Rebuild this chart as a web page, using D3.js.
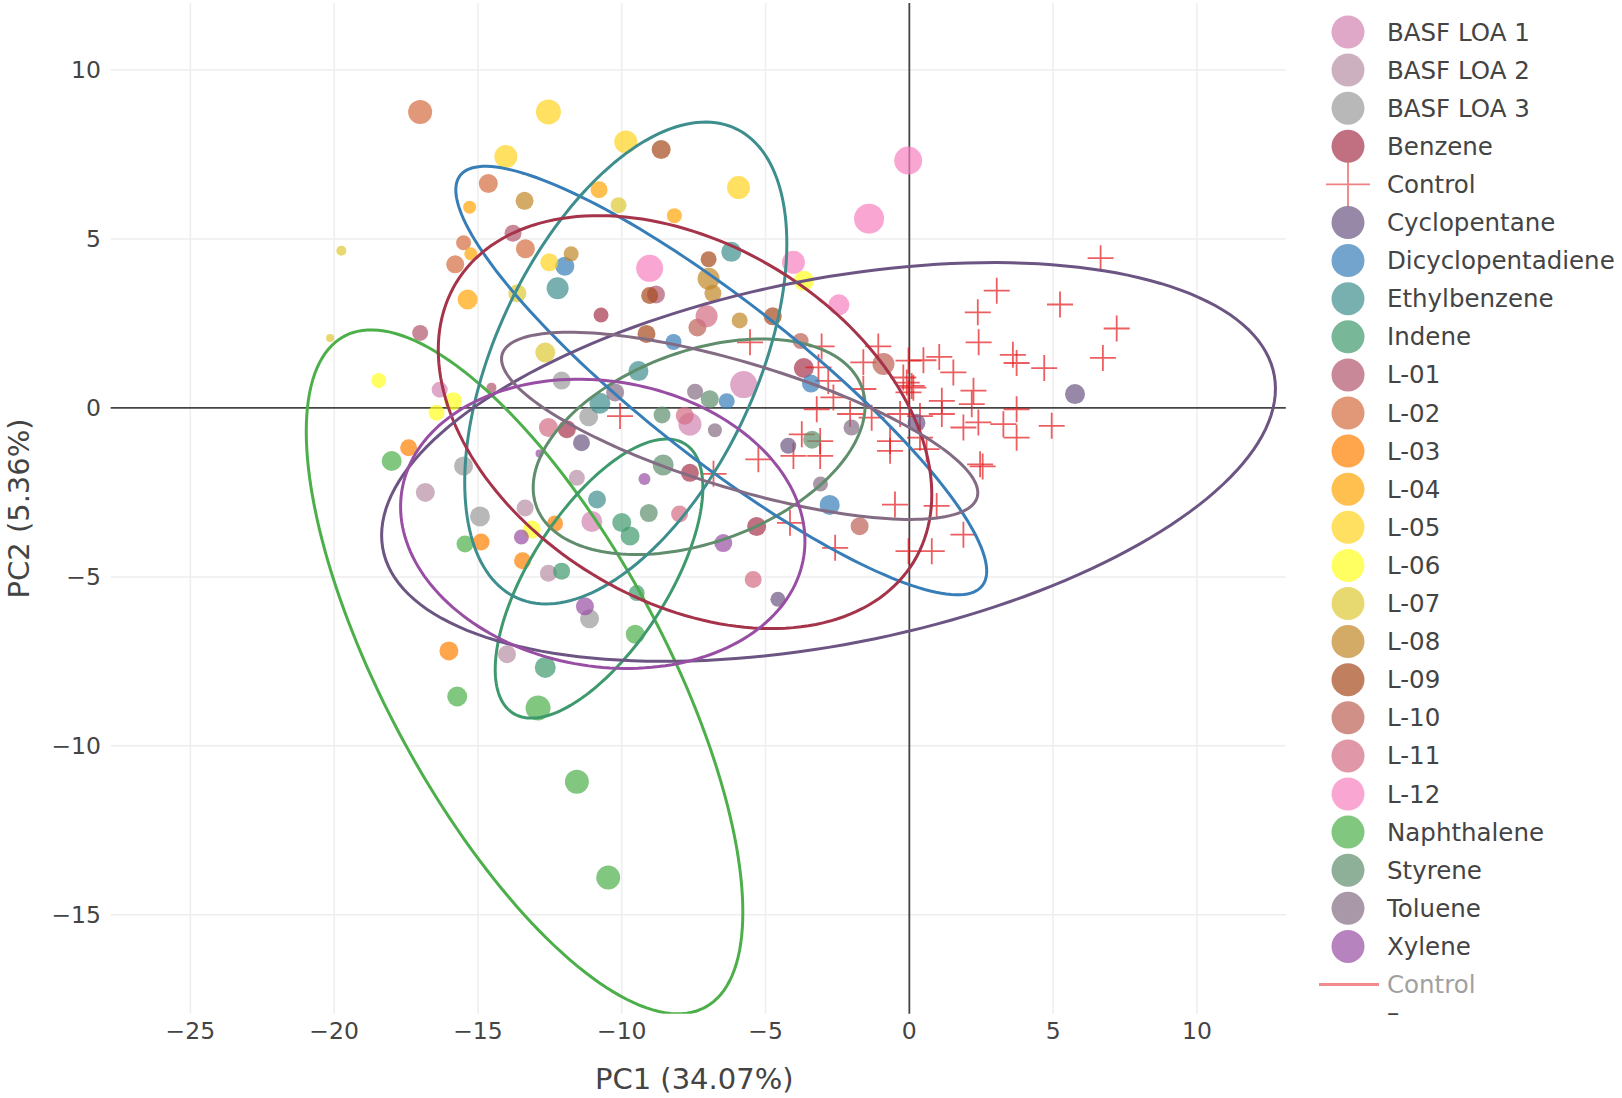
<!DOCTYPE html>
<html>
<head>
<meta charset="utf-8">
<script src="https://cdn.jsdelivr.net/npm/d3@7"></script>
<style>
  body { margin: 0; background: #fff; }
  text { font-family: "DejaVu Sans", Verdana, sans-serif; fill: #444; }
</style>
</head>
<body>
<svg id="chart" width="1622" height="1098"></svg>
<script>
// ---- data: [PC1, PC2, marker size] ----
const basfLoa1 = [[-5.76, 0.69, 27], [-7.63, -0.48, 23], [-16.33, 0.54, 16], [-11.04, -3.36, 21]];
const basfLoa2 = [[-16.83, -2.50, 19], [-11.56, -2.07, 16], [-13.36, -2.96, 17], [-12.55, -4.89, 17], [-13.99, -7.29, 18]];
const basfLoa3 = [[-12.09, 0.81, 18], [-11.15, -0.26, 19], [-15.50, -1.72, 19], [-14.93, -3.21, 20], [-11.12, -6.24, 19]];
const benzene = [[-10.72, 2.75, 15], [-3.67, 1.18, 20], [-11.91, -0.63, 18], [-7.63, -1.92, 18], [-5.31, -3.51, 19]];
const cyclopentane = [[5.76, 0.41, 20], [0.25, -0.44, 18], [-11.40, -1.03, 17], [-4.21, -1.12, 16], [-4.57, -5.66, 15]];
const dicyclopentadiene = [[-11.98, 4.19, 19], [-8.20, 1.95, 16], [-3.42, 0.72, 18], [-6.35, 0.20, 16], [-2.77, -2.87, 20]];
const ethylbenzene = [[-6.19, 4.62, 20], [-12.23, 3.54, 22], [-9.42, 1.09, 20], [-10.76, 0.14, 21], [-10.86, -2.71, 18]];
const indene = [[-10.00, -3.39, 19], [-9.71, -3.79, 19], [-12.09, -4.83, 17], [-12.66, -7.68, 21], [-9.48, -5.48, 16]];
const l01 = [[-13.78, 5.17, 17], [-8.81, 3.36, 18], [-17.01, 2.22, 16], [-14.53, 0.60, 10]];
const l02 = [[-17.01, 8.76, 24], [-14.64, 6.64, 19], [-15.50, 4.89, 15], [-13.35, 4.71, 19], [-15.79, 4.25, 18]];
const l03 = [[-17.41, -1.18, 17], [-12.32, -3.42, 16], [-14.89, -3.97, 17], [-13.45, -4.52, 17], [-16.01, -7.19, 19]];
const l04 = [[-10.79, 6.46, 17], [-15.29, 5.94, 13], [-8.17, 5.69, 15], [-15.25, 4.56, 13], [-15.36, 3.21, 20]];
const l05 = [[-12.55, 8.76, 25], [-9.86, 7.87, 23], [-14.03, 7.44, 23], [-5.94, 6.52, 23], [-12.52, 4.31, 18]];
const l06 = [[-3.67, 3.76, 20], [-18.45, 0.81, 15], [-15.86, 0.20, 18], [-16.44, -0.14, 16], [-13.13, -3.60, 18]];
const l07 = [[-10.11, 6.00, 16], [-13.63, 3.39, 18], [-12.66, 1.64, 20], [-19.75, 4.65, 10], [-20.14, 2.07, 8]];
const l08 = [[-13.38, 6.13, 18], [-11.76, 4.56, 15], [-6.98, 3.82, 22], [-6.83, 3.39, 17], [-5.90, 2.59, 16]];
const l09 = [[-8.63, 7.65, 19], [-6.98, 4.40, 16], [-9.03, 3.33, 17], [-4.75, 2.71, 18], [-9.14, 2.19, 18]];
const l10 = [[-7.37, 2.38, 18], [-3.78, 1.98, 16], [-0.90, 1.30, 22], [-1.73, -3.50, 18]];
const l11 = [[-7.05, 2.71, 22], [-7.81, -0.23, 18], [-12.55, -0.58, 19], [-7.99, -3.14, 17], [-5.43, -5.08, 17]];
const l12 = [[-0.04, 7.32, 28], [-1.40, 5.60, 30], [-9.03, 4.13, 27], [-4.03, 4.31, 23], [-2.45, 3.05, 21]];
const naphthalene = [[-18.00, -1.57, 20], [-15.45, -4.03, 17], [-9.53, -6.70, 19], [-15.72, -8.54, 20], [-12.91, -8.88, 25], [-11.56, -11.06, 24], [-10.47, -13.90, 24]];
const styrene = [[-6.94, 0.26, 18], [-8.60, -0.21, 17], [-3.38, -0.94, 18], [-8.56, -1.69, 21], [-9.06, -3.11, 18]];
const toluene = [[-10.23, 0.46, 18], [-7.45, 0.48, 16], [-6.76, -0.66, 14], [-2.01, -0.58, 16], [-3.09, -2.25, 15]];
const xylene = [[-12.86, -1.35, 8], [-9.21, -2.10, 12], [-13.49, -3.82, 15], [-6.47, -4.00, 18], [-11.28, -5.87, 18]];

// control samples (cross markers)
const control = [
  [6.65, 4.43], [3.04, 3.47], [5.24, 3.06], [2.38, 2.83], [7.21, 2.35], [2.41, 1.94], [6.73, 1.48],
  [3.60, 1.57], [3.73, 1.33], [4.69, 1.18], [-3.05, 1.82], [-1.08, 1.82], [-1.60, 1.35], [-0.03, 1.40],
  [0.49, 1.41], [1.04, 1.51], [1.53, 1.05], [-0.09, 0.75], [0.08, 0.65], [-0.21, 0.90], [0.14, 0.60],
  [-0.03, 0.46], [-3.16, 1.20], [-2.82, 0.80], [-2.64, 0.31], [-3.22, -0.04], [-2.06, -0.18], [-1.60, 0.56],
  [-0.32, -0.18], [0.37, -0.24], [1.13, -0.18], [1.13, 0.21], [2.23, 0.51], [2.17, 0.11], [1.88, -0.58],
  [2.40, -0.43], [3.27, -0.48], [3.73, -0.04], [3.73, -0.88], [4.95, -0.53], [2.46, -1.67], [2.55, -1.73],
  [-0.67, -0.98], [-0.67, -1.27], [0.37, -0.88], [0.60, -1.22], [-1.31, -0.29], [-0.50, -2.86], [0.95, -2.90],
  [1.88, -3.75], [-0.03, -4.24], [0.78, -4.24], [-2.58, -4.14], [-4.15, -3.40], [-5.25, -1.52], [-4.03, -1.42],
  [-3.10, -1.42], [-3.74, -0.78], [-3.10, -0.98], [-5.54, 1.94], [-10.06, -0.24], [-6.81, -1.95]
];

const groupNames = ["BASF LOA 1", "BASF LOA 2", "BASF LOA 3", "Benzene", "Control", "Cyclopentane",
  "Dicyclopentadiene", "Ethylbenzene", "Indene", "L-01", "L-02", "L-03", "L-04", "L-05", "L-06", "L-07",
  "L-08", "L-09", "L-10", "L-11", "L-12", "Naphthalene", "Styrene", "Toluene", "Xylene"];
const groupValues = [basfLoa1, basfLoa2, basfLoa3, benzene, control, cyclopentane,
  dicyclopentadiene, ethylbenzene, indene, l01, l02, l03, l04, l05, l06, l07,
  l08, l09, l10, l11, l12, naphthalene, styrene, toluene, xylene];
const groupColors = ["#d383b0", "#b68ea5", "#9a9a9a", "#a5334a", "#e41a1c", "#6c5583",
  "#377eb8", "#3e8e8e", "#3e996c", "#b0556c", "#d36c3e", "#ff7f00", "#ffa505", "#ffd31c", "#ffff20", "#dec733",
  "#c28627", "#a54a1c", "#bc6155", "#d36c83", "#f781bf", "#4daf4a", "#608e6c", "#836c83", "#984ea3"];

// confidence ellipses: centre, half width, half height, PC2 value at the right-most point
const ellipseGroups = ["Naphthalene", "Indene", "Styrene", "Dicyclopentadiene", "Ethylbenzene", "Benzene", "Cyclopentane", "Toluene", "Xylene"];
const ellipseCx = [-13.38, -10.79, -7.31, -6.54, -9.86, -7.80, -2.81, -5.90, -10.66];
const ellipseCy = [-7.81, -5.05, -1.15, 0.81, 1.33, -0.42, -1.60, -0.53, -3.43];
const ellipseHalfW = [7.59, 3.61, 5.77, 9.23, 5.60, 8.58, 15.54, 8.28, 7.03];
const ellipseHalfH = [10.12, 4.13, 3.19, 6.34, 7.13, 6.11, 5.90, 2.77, 4.28];
const ellipseYAtRight = [-14.92, -2.36, 0.06, -4.83, 4.86, -2.56, 0.57, -2.51, -3.94];

const xTicks = [-25, -20, -15, -10, -5, 0, 5, 10];
const yTicks = [-15, -10, -5, 0, 5, 10];

// ---- layout ----
const plot = {left: 110.7, right: 1285.8, top: 3.1, bottom: 1013.8};
const svg = d3.select("#chart");

const x = d3.scaleLinear().domain([-27.77, 13.09]).range([plot.left, plot.right]);
const y = d3.scaleLinear().domain([11.98, -17.93]).range([plot.top, plot.bottom]);
const size = d3.scaleLinear().domain([0, 30]).range([0, 30]);
const color = d3.scaleOrdinal().domain(groupNames).range(groupColors);

svg.append("defs").append("clipPath").attr("id", "plot-clip")
  .append("rect")
  .attr("x", plot.left).attr("y", plot.top)
  .attr("width", plot.right - plot.left).attr("height", plot.bottom - plot.top);

// grid
const grid = svg.append("g");
grid.selectAll("line.gx").data(xTicks.filter(d => d !== 0)).enter().append("line")
  .attr("x1", d => x(d)).attr("x2", d => x(d))
  .attr("y1", plot.top).attr("y2", plot.bottom)
  .attr("stroke", "#eee").attr("stroke-width", 1.5);
grid.selectAll("line.gy").data(yTicks.filter(d => d !== 0)).enter().append("line")
  .attr("y1", d => y(d)).attr("y2", d => y(d))
  .attr("x1", plot.left).attr("x2", plot.right)
  .attr("stroke", "#eee").attr("stroke-width", 1.5);

// zero lines
grid.append("line")
  .attr("x1", x(0)).attr("x2", x(0)).attr("y1", plot.top).attr("y2", plot.bottom)
  .attr("stroke", "#444").attr("stroke-width", 1.8);
grid.append("line")
  .attr("y1", y(0)).attr("y2", y(0)).attr("x1", plot.left).attr("x2", plot.right)
  .attr("stroke", "#444").attr("stroke-width", 1.8);

// tick labels
const fmt = d3.format("d");
svg.append("g").selectAll("text").data(xTicks).enter().append("text")
  .attr("x", d => x(d)).attr("y", 1031)
  .attr("text-anchor", "middle").attr("dominant-baseline", "central")
  .style("font-size", "23.5px")
  .text(d => fmt(d));
svg.append("g").selectAll("text").data(yTicks).enter().append("text")
  .attr("x", 101).attr("y", d => y(d))
  .attr("text-anchor", "end").attr("dominant-baseline", "central")
  .style("font-size", "23.5px")
  .text(d => fmt(d));

// axis titles
svg.append("text")
  .attr("x", (plot.left + plot.right) / 2 - 4).attr("y", 1079)
  .attr("text-anchor", "middle").attr("dominant-baseline", "central")
  .style("font-size", "29px")
  .text("PC1 (34.07%)");
svg.append("text")
  .attr("transform", `translate(19, ${(plot.top + plot.bottom) / 2}) rotate(-90)`)
  .attr("text-anchor", "middle").attr("dominant-baseline", "central")
  .style("font-size", "29px")
  .text("PC2 (5.36%)");

// markers
const marks = svg.append("g").attr("clip-path", "url(#plot-clip)");
groupNames.forEach((name, i) => {
  const pts = groupValues[i];
  if (name === "Control") {
    marks.append("g").selectAll("path").data(pts).enter().append("path")
      .attr("d", d => `M${x(d[0]) - 13},${y(d[1])}H${x(d[0]) + 13}M${x(d[0])},${y(d[1]) - 13}V${y(d[1]) + 13}`)
      .attr("stroke", color(name)).attr("stroke-width", 1.8)
      .attr("stroke-opacity", 0.7).attr("fill", "none");
  } else {
    marks.append("g").selectAll("circle").data(pts).enter().append("circle")
      .attr("cx", d => x(d[0])).attr("cy", d => y(d[1]))
      .attr("r", d => size(d[2]) / 2)
      .attr("fill", color(name)).attr("fill-opacity", 0.7);
  }
});

// ellipses
const line = d3.line().x(d => x(d[0])).y(d => y(d[1])).curve(d3.curveLinearClosed);
ellipseGroups.forEach((name, i) => {
  const cx = ellipseCx[i], cy = ellipseCy[i], w = ellipseHalfW[i], h = ellipseHalfH[i];
  const dy = ellipseYAtRight[i] - cy;
  const k = Math.sqrt(Math.max(h * h - dy * dy, 0));
  const ring = d3.range(0, 2 * Math.PI, Math.PI / 90)
    .map(t => [cx + w * Math.cos(t), cy + dy * Math.cos(t) + k * Math.sin(t)]);
  marks.append("path")
    .attr("d", line(ring))
    .attr("fill", "none")
    .attr("stroke", color(name))
    .attr("stroke-width", 3);
});

// legend
const legend = svg.append("g").attr("transform", "translate(1348, 32)");
const step = 38.1;
const item = legend.selectAll("g").data(groupNames).enter().append("g")
  .attr("transform", (d, i) => `translate(0, ${i * step})`);
item.each(function (d) {
  const g = d3.select(this);
  if (d === "Control") {
    g.append("path").attr("d", "M-22,0H22M0,-22V22")
      .attr("stroke", color(d)).attr("stroke-width", 1.8).attr("stroke-opacity", 0.55);
  } else {
    g.append("circle").attr("r", 16.5).attr("fill", color(d)).attr("fill-opacity", 0.7);
  }
});
item.append("text")
  .attr("x", 39).attr("dominant-baseline", "central")
  .style("font-size", "24.5px")
  .text(d => d);

// hidden (legend-only) control line entry
const hidden = legend.append("g").attr("transform", `translate(0, ${groupNames.length * step})`).attr("opacity", 0.5);
hidden.append("line").attr("x1", -29).attr("x2", 31)
  .attr("stroke", color("Control")).attr("stroke-width", 3);
hidden.append("text").attr("x", 39).attr("dominant-baseline", "central")
  .style("font-size", "24.5px").text("Control");
legend.append("text")
  .attr("x", 39).attr("y", (groupNames.length + 1) * step - 10)
  .attr("dominant-baseline", "central")
  .style("font-size", "24.5px").text("–");
</script>
</body>
</html>
